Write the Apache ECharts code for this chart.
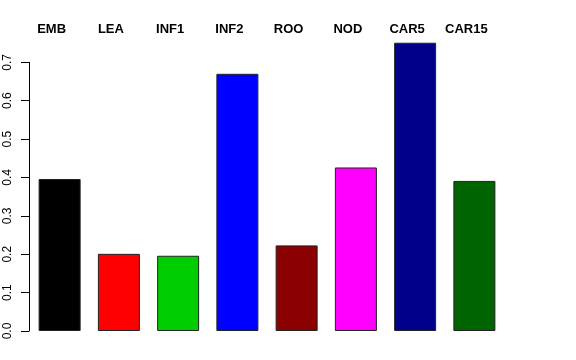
<!DOCTYPE html>
<html>
<head>
<meta charset="utf-8">
<script src="https://cdn.jsdelivr.net/npm/echarts@6/dist/echarts.min.js"></script>
<style>
html,body{margin:0;padding:0;background:#fff;}
#chart{width:576px;height:360px;}
</style>
</head>
<body>
<div id="chart"></div>
<script>
var categories = ['EMB', 'LEA', 'INF1', 'INF2', 'ROO', 'NOD', 'CAR5', 'CAR15'];
var values = [0.396, 0.201, 0.196, 0.670, 0.223, 0.426, 0.751, 0.391];
var barColors = ['#000000', '#FF0000', '#00CD00', '#0000FF', '#8B0000', '#FF00FF', '#00008B', '#006400'];
var yTicks = [0, 0.1, 0.2, 0.3, 0.4, 0.5, 0.6, 0.7];

var chart = echarts.init(document.getElementById('chart'), null, {renderer: 'canvas'});
var font = '"Liberation Sans", Arial, Helvetica, sans-serif';
chart.setOption({
  animation: false,
  backgroundColor: '#ffffff',
  grid: {left: 30, top: 62.3, width: 474, bottom: 29, containLabel: false},
  xAxis: {
    type: 'category',
    data: categories,
    position: 'top',
    axisLine: {show: false},
    axisTick: {show: false},
    axisLabel: {
      show: true, margin: 26, color: '#000', fontFamily: font,
      fontWeight: 'bold', fontSize: 13, padding: [0, 16, 0, 0], interval: 0
    },
    splitLine: {show: false}
  },
  yAxis: {
    type: 'value',
    min: 0, max: yTicks[yTicks.length - 1], interval: 0.1,
    offset: 1,
    axisLine: {show: true, lineStyle: {color: '#000', width: 1}},
    axisTick: {show: true, length: 8, lineStyle: {color: '#000'}},
    axisLabel: {
      show: true, rotate: 90, margin: 15, color: '#000', fontFamily: font, fontSize: 12,
      formatter: function (v) { return v.toFixed(1); }
    },
    splitLine: {show: false}
  },
  series: [{
    type: 'bar',
    clip: false,
    barWidth: 42,
    data: values.map(function (v, i) {
      return {value: v, itemStyle: {color: barColors[i]}};
    }),
    itemStyle: {borderColor: '#222', borderWidth: 1}
  }]
});
</script>
</body>
</html>
